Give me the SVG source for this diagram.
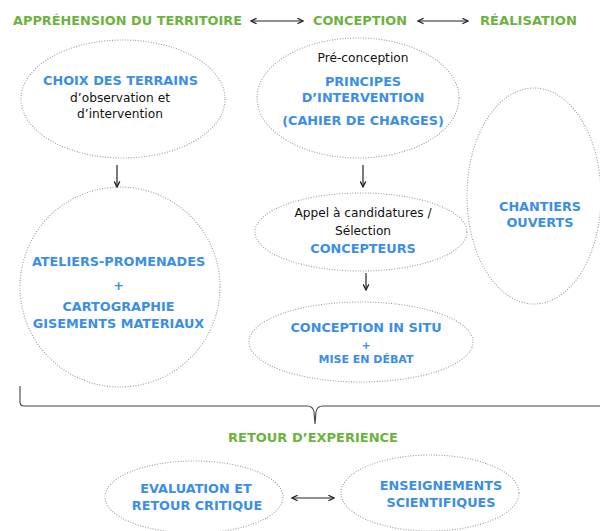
<svg xmlns="http://www.w3.org/2000/svg" width="600" height="531" viewBox="0 0 600 531">
<defs>
<style>
.hd{font-family:"DejaVu Sans",Verdana,sans-serif;font-weight:bold;font-size:13px;fill:#6cb33e}
.b{font-family:"DejaVu Sans",Verdana,sans-serif;font-weight:bold;font-size:12.8px;fill:#3a8ee6;text-anchor:middle}
.s{font-size:11px}
.n{font-family:"DejaVu Sans",Tahoma,sans-serif;font-size:12.2px;fill:#111;text-anchor:middle}
.el{fill:#fff;stroke:#9a9a9a;stroke-width:1.1;stroke-dasharray:1 1.6}
.ar{fill:none;stroke:#222;stroke-width:1.2}
.br{fill:none;stroke:#444;stroke-width:1.1}
</style>
<marker id="h" viewBox="0 0 10 10" refX="9" refY="5" markerWidth="7" markerHeight="7" orient="auto-start-reverse" markerUnits="userSpaceOnUse">
<polyline points="1,1 9,5 1,9" fill="none" stroke="#222" stroke-width="1.8"/>
</marker>
</defs>
<rect width="600" height="531" fill="#fff"/>

<g id="headers">
<text class="hd" x="13" y="25" textLength="229" lengthAdjust="spacingAndGlyphs">APPRÉHENSION DU TERRITOIRE</text>
<text class="hd" x="313" y="25" textLength="94" lengthAdjust="spacingAndGlyphs">CONCEPTION</text>
<text class="hd" x="480" y="25" textLength="97" lengthAdjust="spacingAndGlyphs">RÉALISATION</text>
</g>

<g id="n-choix">
<ellipse class="el" cx="123" cy="99" rx="102" ry="59"/>
<text class="b" x="120.5" y="85">CHOIX DES TERRAINS</text>
<text class="n" x="120" y="102">d’observation et</text>
<text class="n" x="120" y="118">d’intervention</text>
</g>

<g id="n-ateliers">
<ellipse class="el" cx="120" cy="287" rx="100" ry="100"/>
<text class="b" x="118.5" y="266">ATELIERS-PROMENADES</text>
<text class="b" x="118.5" y="290">+</text>
<text class="b" x="118.5" y="311">CARTOGRAPHIE</text>
<text class="b" x="118.5" y="328">GISEMENTS MATERIAUX</text>
</g>

<g id="n-principes">
<ellipse class="el" cx="358" cy="98" rx="101" ry="60"/>
<text class="n" x="363" y="62">Pré-conception</text>
<text class="b" x="363" y="86">PRINCIPES</text>
<text class="b" x="363" y="102">D’INTERVENTION</text>
<text class="b" x="363" y="125">(CAHIER DE CHARGES)</text>
</g>

<g id="n-appel">
<ellipse class="el" cx="361" cy="232" rx="106" ry="39"/>
<text class="n" x="363" y="217">Appel à candidatures /</text>
<text class="n" x="363" y="235">Sélection</text>
<text class="b" x="363" y="253">CONCEPTEURS</text>
</g>

<g id="n-insitu">
<ellipse class="el" cx="361" cy="342" rx="112" ry="40"/>
<text class="b" x="366" y="332">CONCEPTION IN SITU</text>
<text class="b s" x="366" y="349">+</text>
<text class="b s" x="366" y="363">MISE EN DÉBAT</text>
</g>

<g id="n-chantiers">
<ellipse class="el" cx="534" cy="196" rx="67" ry="108"/>
<text class="b" x="540" y="211">CHANTIERS</text>
<text class="b" x="540" y="227">OUVERTS</text>
</g>

<g id="n-retour">
<text class="hd" x="313" y="442" text-anchor="middle">RETOUR D’EXPERIENCE</text>
</g>

<g id="n-evaluation">
<ellipse class="el" cx="194" cy="497" rx="89" ry="36"/>
<text class="b" x="196" y="493">EVALUATION ET</text>
<text class="b" x="197" y="510">RETOUR CRITIQUE</text>
</g>

<g id="n-enseignements">
<ellipse class="el" cx="430" cy="493" rx="89" ry="38"/>
<text class="b" x="441" y="490">ENSEIGNEMENTS</text>
<text class="b" x="441" y="507">SCIENTIFIQUES</text>
</g>

<g id="connectors">
<line class="ar" x1="251" y1="21" x2="303" y2="21" marker-start="url(#h)" marker-end="url(#h)"/>
<line class="ar" x1="418" y1="21" x2="468" y2="21" marker-start="url(#h)" marker-end="url(#h)"/>
<line class="ar" x1="117" y1="165" x2="117" y2="187" marker-end="url(#h)"/>
<line class="ar" x1="363" y1="165" x2="363" y2="187" marker-end="url(#h)"/>
<line class="ar" x1="366" y1="273" x2="366" y2="290" marker-end="url(#h)"/>
<line class="ar" x1="292" y1="498" x2="334" y2="498" marker-start="url(#h)" marker-end="url(#h)"/>
<path class="br" d="M20,386 V402 Q20,406 24,406 H307 Q313,406 314,412 L315,424 L316,412 Q317,406 323,406 H600"/>
</g>
</svg>
